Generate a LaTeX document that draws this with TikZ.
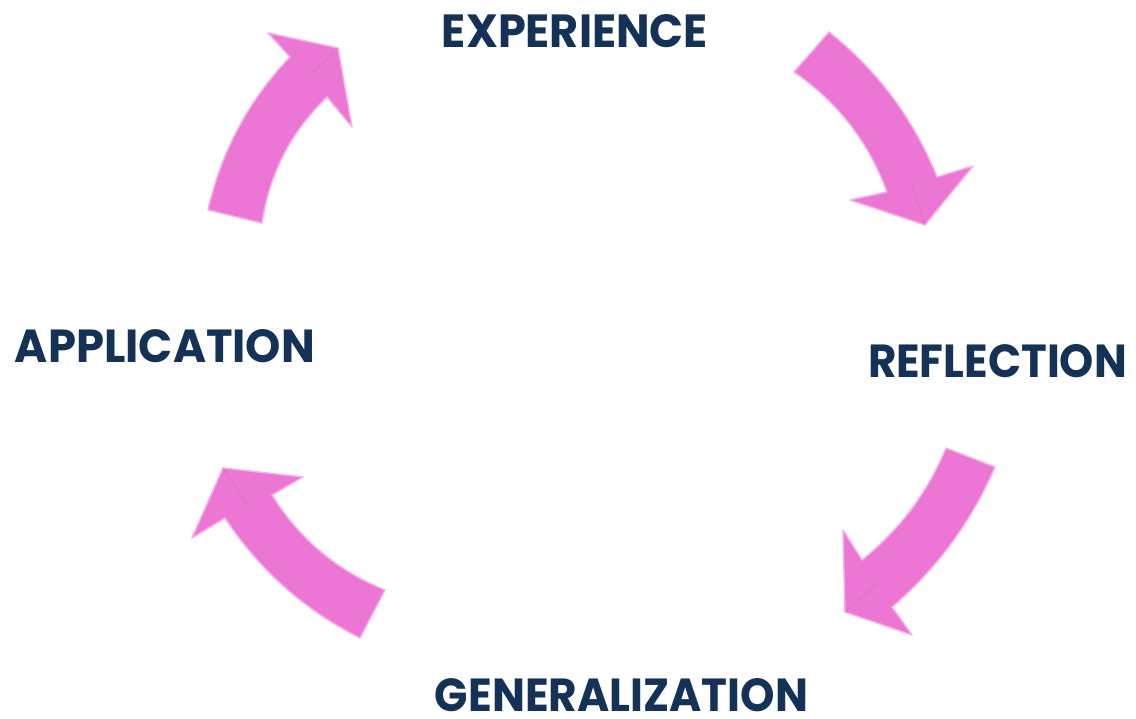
\documentclass[tikz,border=0pt]{standalone}
\usepackage{fontspec}
\setmainfont{Poppins}
\usepackage{graphicx}
\usetikzlibrary{positioning,calc}
\definecolor{navy}{RGB}{20,50,86}
\definecolor{orchid}{RGB}{236,118,212}
\definecolor{orchidglow}{RGB}{247,175,234}
\definecolor{orchiddark}{RGB}{210,104,186}
\newcommand\lbl[2]{\resizebox{#1pt}{33pt}{\bfseries #2}}
% shaft edges are quadratic curves: #2 and #8 are their control points
\newcommand\arw[9]{\filldraw[bent] #1 .. controls ($#1!2/3!#2$) and ($#3!2/3!#2$) .. #3 -- #4 -- #5 -- #6 -- #7 .. controls ($#7!2/3!#8$) and ($#9!2/3!#8$) .. #9 -- cycle;
\draw[crease] #5 -- ($#3!0.5!#7$);}
\tikzset{bent/.style={fill=orchid, draw=orchidglow, line width=1.5pt, line join=round},
crease/.style={draw=orchiddark, line width=0.6pt, opacity=0.6},
stage/.style={text=navy, inner sep=0pt}}

\begin{document}
\begin{tikzpicture}[x=1pt,y=-1pt]
\useasboundingbox (0,0) rectangle (1136,719);

% arrows, clockwise
\arw{(829,32)}{(902,90)}{(937,177)}{(973,166)}{(925,225)}{(850,200)}{(887,192)}{(859.5,117)}{(794,72)}
\arw{(995,467)}{(959.6,549)}{(892,607)}{(912,635)}{(845,612)}{(843,530)}{(862,560)}{(918.4,515)}{(946,448)}
\arw{(360,638)}{(276.6,596)}{(225,518)}{(192,538)}{(223,468)}{(303,477)}{(272,495)}{(313,561)}{(385,590)}
\arw{(208,210)}{(228,122)}{(290,57)}{(268,33)}{(338,48)}{(352,127)}{(327,97)}{(273,149)}{(262,223)}

% stages
\node[stage] (exp) at (575,31) {\lbl{266}{EXPERIENCE}};
\node[stage] (refl) at (997.5,361.5) {\lbl{259}{REFLECTION}};
\node[stage] (gen) at (621.5,695.5) {\lbl{373}{GENERALIZATION}};
\node[stage] (app) at (165,346.5) {\lbl{300}{APPLICATION}};
\end{tikzpicture}
\end{document}
